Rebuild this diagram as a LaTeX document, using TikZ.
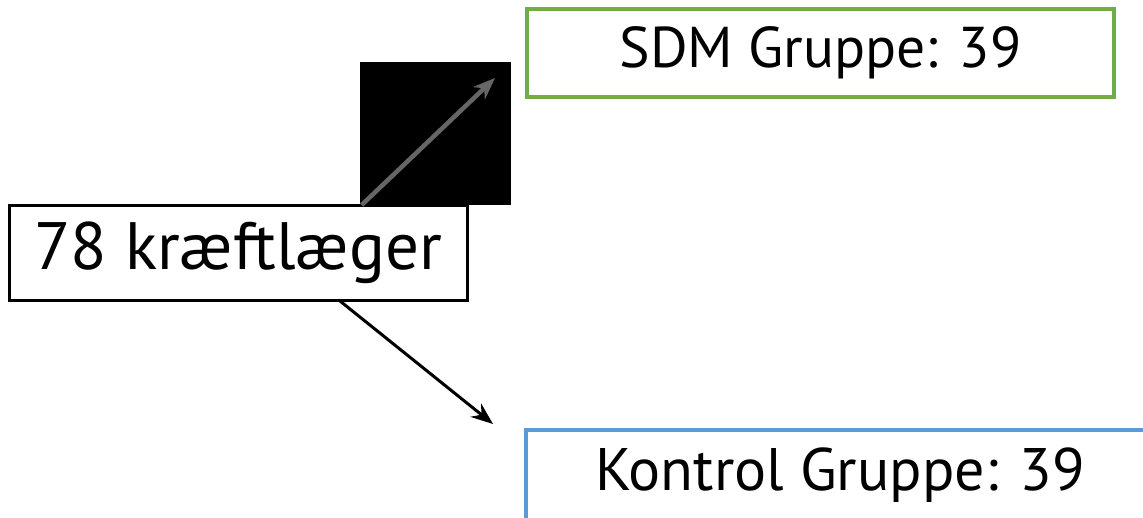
\documentclass[tikz,border=0pt]{standalone}
\usepackage{fontspec}
\setmainfont{PT Sans}
\usetikzlibrary{arrows.meta,calc}
\definecolor{sdmgreen}{HTML}{70AD47}
\definecolor{ctrlblue}{HTML}{5B9BD5}
\tikzset{
  box/.style={draw, fill=white, inner sep=0pt, outer sep=0pt},
  arr/.style={line width=3pt, -{Stealth[length=22pt,width=17pt]}},
}
\begin{document}
\begin{tikzpicture}[x=1pt,y=-1pt]
\useasboundingbox (0,0) rectangle (1143,517);
\clip (0,0) rectangle (1143,517);
\fill[white] (0,0) rectangle (1143,517);
\fill[black] (360,62) rectangle (511,205);
\node[box, line width=3pt, minimum width=458pt, minimum height=95pt] (main) at (238,252.5)
  {\raisebox{-5pt}{\fontsize{67}{78}\selectfont 78 kræftlæger}};
\node[box, draw=sdmgreen, line width=4pt, minimum width=587pt, minimum height=88pt] (sdm) at (820.5,53)
  {\raisebox{-4pt}{\fontsize{57.5}{66}\selectfont SDM Gruppe: 39}};
\node[box, draw=ctrlblue, line width=4pt, minimum width=628pt, minimum height=90pt] (ctrl) at (840,475)
  {\raisebox{-3pt}{\fontsize{60}{70}\selectfont Kontrol Gruppe: 39}};
\coordinate (s1) at ($(main.north west)!0.77!(main.north east)$);
\coordinate (e1) at (495,78);
\coordinate (s2) at ($(main.south west)!0.72!(main.south east)$);
\coordinate (e2) at (493,424);
\draw[arr, draw=black!60, fill=black!60, line width=4.5pt] (s1) -- (e1);
\draw[arr] (s2) -- (e2);
\end{tikzpicture}
\end{document}
